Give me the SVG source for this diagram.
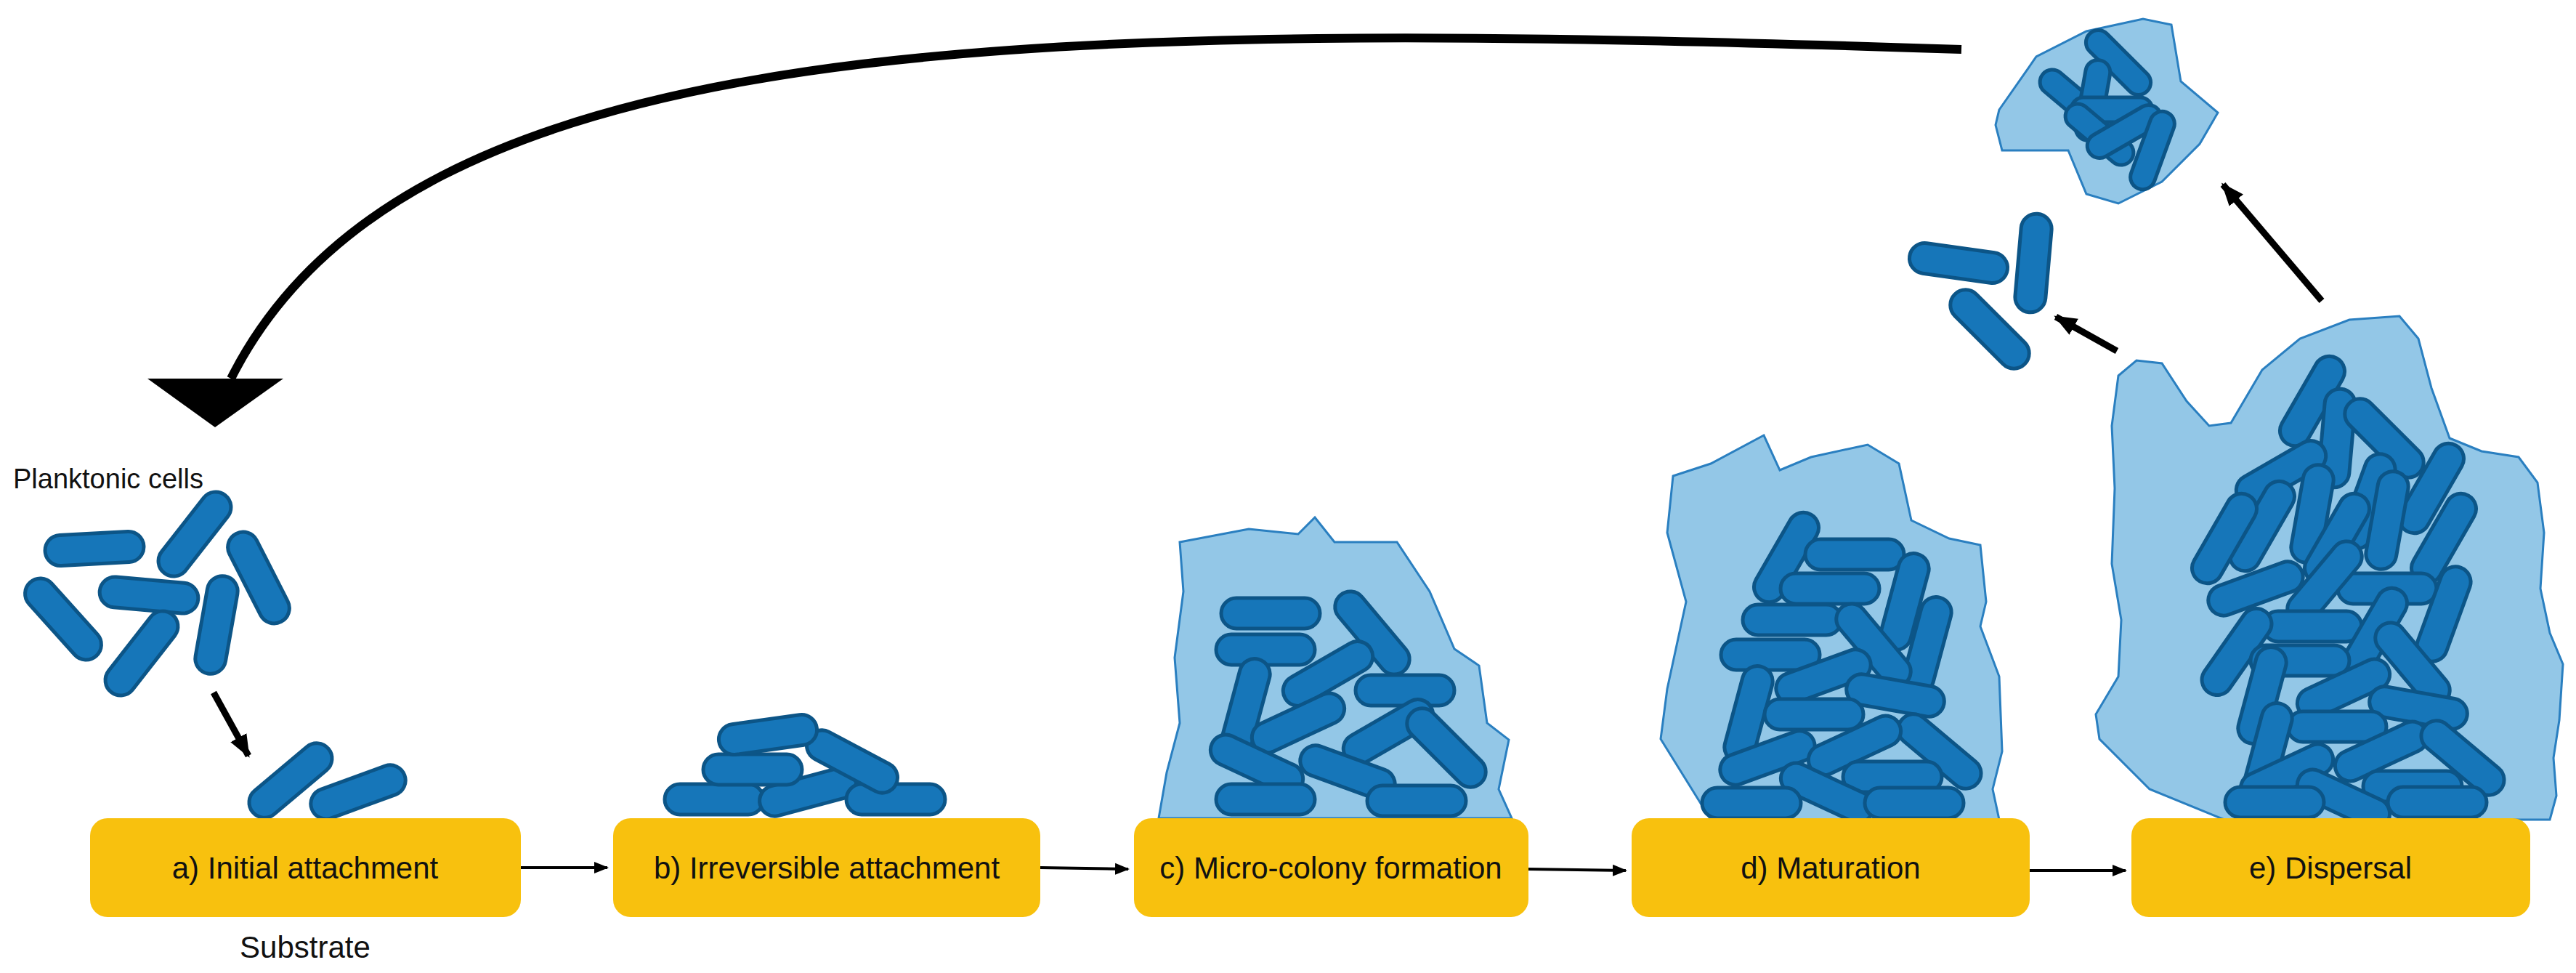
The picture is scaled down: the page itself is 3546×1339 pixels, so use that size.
<svg xmlns="http://www.w3.org/2000/svg" xmlns:xlink="http://www.w3.org/1999/xlink" width="3546" height="1339" viewBox="0 0 3546 1339">
<style>
.cell{fill:#1676b9;stroke:#0c5587;stroke-width:5}
.blob{fill:#93c7e7;stroke:#2a7fc0;stroke-width:3}
.box{fill:#f8c10e}
.lbl{font-family:"Liberation Sans",Arial,sans-serif;font-size:42px;fill:#111;text-anchor:middle}
.con{stroke:#000;stroke-width:4;fill:none}
.arr{stroke:#000;stroke-width:9;fill:none}
</style>
<defs>
<rect id="c" class="cell" x="-68" y="-21" width="136" height="42" rx="21"/>
<rect id="cs" class="cell" x="-56" y="-17" width="112" height="34" rx="17"/>
<marker id="mh" viewBox="0 0 10 10" refX="9" refY="5" markerWidth="5" markerHeight="5" orient="auto" markerUnits="strokeWidth"><path d="M0,1 L10,5 L0,9 z" fill="#000"/></marker>
<marker id="mb" viewBox="0 0 10 10" refX="9" refY="5" markerWidth="3.5" markerHeight="3.5" orient="auto" markerUnits="strokeWidth"><path d="M0,1 L10,5 L0,9 z" fill="#000"/></marker>
</defs>
<rect width="3546" height="1339" fill="#fff"/>

<g id="connectors">
<path class="con" d="M717,1194 L836,1194" marker-end="url(#mh)"/>
<path class="con" d="M1432,1194 L1553,1196" marker-end="url(#mh)"/>
<path class="con" d="M2104,1196 L2238,1198" marker-end="url(#mh)"/>
<path class="con" d="M2794,1198 L2926,1198" marker-end="url(#mh)"/>
<path d="M2700,68 C1400,25 560,40 318,521" fill="none" stroke="#000" stroke-width="12"/>
<polygon points="203,521 390,521 296,588" fill="#000"/>
<path class="arr" d="M294,953 L342,1040" marker-end="url(#mb)"/>
<path class="arr" d="M3196,414 L3060,254" marker-end="url(#mb)"/>
<path class="arr" d="M2914,483 L2830,436" marker-end="url(#mb)"/>
</g>

<g id="planktonic">
<text x="18" y="672" font-family="Liberation Sans,Arial,sans-serif" font-size="38" fill="#111">Planktonic cells</text>
<use href="#c" transform="translate(130,755) rotate(-3)"/>
<use href="#c" transform="translate(268,735) rotate(-52)"/>
<use href="#c" transform="translate(356,795) rotate(63)"/>
<use href="#c" transform="translate(205,819) rotate(5)"/>
<use href="#c" transform="translate(87,852) rotate(48)"/>
<use href="#c" transform="translate(195,899) rotate(-52)"/>
<use href="#c" transform="translate(298,860) rotate(-80)"/>
</g>

<g id="node-a">
<use href="#c" transform="translate(400,1074) rotate(-40)"/>
<use href="#c" transform="translate(493,1090) rotate(-20)"/>
<rect class="box" x="124" y="1126" width="593" height="136" rx="24"/>
<text class="lbl" x="420" y="1209">a) Initial attachment</text>
<text class="lbl" x="420" y="1318" font-size="38">Substrate</text>
</g>

<g id="node-b">
<use href="#c" transform="translate(983,1100)"/>
<use href="#c" transform="translate(1112,1090) rotate(-15)"/>
<use href="#c" transform="translate(1233,1100)"/>
<use href="#c" transform="translate(1036,1059)"/>
<use href="#c" transform="translate(1173,1048) rotate(28)"/>
<use href="#c" transform="translate(1057,1011) rotate(-8)"/>
<rect class="box" x="844" y="1126" width="588" height="136" rx="24"/>
<text class="lbl" x="1138" y="1209">b) Irreversible attachment</text>
</g>

<g id="node-c">
<polygon class="blob" points="1624,746 1719,728 1787,735 1810,712 1837,746 1923,746 1968,814 2002,893 2036,916 2047,995 2077,1018 2063,1086 2081,1126 1595,1126 1606,1063 1624,995 1617,905 1629,814"/>
<use href="#c" transform="translate(1749,844)"/>
<use href="#c" transform="translate(1889,871) rotate(50)"/>
<use href="#c" transform="translate(1742,894)"/>
<use href="#c" transform="translate(1715,973) rotate(-75)"/>
<use href="#c" transform="translate(1828,927) rotate(-30)"/>
<use href="#c" transform="translate(1934,950)"/>
<use href="#c" transform="translate(1787,995) rotate(-25)"/>
<use href="#c" transform="translate(1911,1007) rotate(-30)"/>
<use href="#c" transform="translate(1991,1029) rotate(45)"/>
<use href="#c" transform="translate(1730,1052) rotate(25)"/>
<use href="#c" transform="translate(1855,1063) rotate(20)"/>
<use href="#c" transform="translate(1742,1100)"/>
<use href="#c" transform="translate(1950,1102)"/>
<rect class="box" x="1561" y="1126" width="543" height="136" rx="24"/>
<text class="lbl" x="1832" y="1209">c) Micro-colony formation</text>
</g>

<g id="node-d">
<polygon class="blob" points="2303,655 2355,638 2428,599 2450,647 2493,629 2571,612 2614,638 2631,716 2683,741 2726,750 2734,828 2726,862 2752,931 2756,1034 2743,1086 2752,1128 2355,1128 2286,1017 2295,948 2321,828 2295,733"/>
<use href="#c" transform="translate(2459,767) rotate(-60)"/>
<use href="#c" transform="translate(2553,763)"/>
<use href="#c" transform="translate(2519,810)"/>
<use href="#c" transform="translate(2622,828) rotate(-75)"/>
<use href="#c" transform="translate(2467,853)"/>
<use href="#c" transform="translate(2437,901)"/>
<use href="#c" transform="translate(2653,888) rotate(-75)"/>
<use href="#c" transform="translate(2579,888) rotate(50)"/>
<use href="#c" transform="translate(2510,931) rotate(-20)"/>
<use href="#c" transform="translate(2407,983) rotate(-75)"/>
<use href="#c" transform="translate(2609,957) rotate(10)"/>
<use href="#c" transform="translate(2497,983)"/>
<use href="#c" transform="translate(2670,1034) rotate(40)"/>
<use href="#c" transform="translate(2433,1043) rotate(-20)"/>
<use href="#c" transform="translate(2553,1026) rotate(-25)"/>
<use href="#c" transform="translate(2605,1069)"/>
<use href="#c" transform="translate(2515,1091) rotate(25)"/>
<use href="#c" transform="translate(2411,1105)"/>
<use href="#c" transform="translate(2635,1105)"/>
<rect class="box" x="2246" y="1126" width="548" height="136" rx="24"/>
<text class="lbl" x="2520" y="1209">d) Maturation</text>
</g>

<g id="node-e">
<polygon class="blob" points="2916,517 2941,496 2976,500 3010,552 3041,586 3071,582 3114,509 3166,466 3234,440 3303,435 3329,466 3347,534 3372,603 3416,621 3467,629 3493,664 3502,733 3497,810 3510,871 3528,914 3523,991 3515,1043 3519,1095 3510,1128 3062,1128 2959,1086 2890,1017 2885,983 2916,931 2920,853 2907,776 2911,672 2907,586"/>
<use href="#c" transform="translate(3183,552) rotate(-60)"/>
<use href="#c" transform="translate(3217,603) rotate(-85)"/>
<use href="#c" transform="translate(3282,603) rotate(45)"/>
<use href="#c" transform="translate(3140,651) rotate(-30)"/>
<use href="#c" transform="translate(3260,690) rotate(-70)"/>
<use href="#c" transform="translate(3347,672) rotate(-60)"/>
<use href="#c" transform="translate(3183,707) rotate(-80)"/>
<use href="#c" transform="translate(3286,716) rotate(-80)"/>
<use href="#c" transform="translate(3114,724) rotate(-60)"/>
<use href="#c" transform="translate(3062,741) rotate(-60)"/>
<use href="#c" transform="translate(3364,741) rotate(-60)"/>
<use href="#c" transform="translate(3217,741) rotate(-60)"/>
<use href="#c" transform="translate(3105,810) rotate(-20)"/>
<use href="#c" transform="translate(3286,810)"/>
<use href="#c" transform="translate(3200,802) rotate(-50)"/>
<use href="#c" transform="translate(3364,845) rotate(-70)"/>
<use href="#c" transform="translate(3183,862)"/>
<use href="#c" transform="translate(3269,871) rotate(-60)"/>
<use href="#c" transform="translate(3079,897) rotate(-55)"/>
<use href="#c" transform="translate(3166,909)"/>
<use href="#c" transform="translate(3321,914) rotate(50)"/>
<use href="#c" transform="translate(3114,957) rotate(-75)"/>
<use href="#c" transform="translate(3226,948) rotate(-25)"/>
<use href="#c" transform="translate(3329,974) rotate(10)"/>
<use href="#c" transform="translate(3217,1000)"/>
<use href="#c" transform="translate(3122,1034) rotate(-75)"/>
<use href="#c" transform="translate(3148,1065) rotate(-25)"/>
<use href="#c" transform="translate(3278,1034) rotate(-25)"/>
<use href="#c" transform="translate(3390,1043) rotate(40)"/>
<use href="#c" transform="translate(3321,1082)"/>
<use href="#c" transform="translate(3226,1100) rotate(25)"/>
<use href="#c" transform="translate(3131,1104)"/>
<use href="#c" transform="translate(3355,1104)"/>
<rect class="box" x="2934" y="1126" width="549" height="136" rx="24"/>
<text class="lbl" x="3208" y="1209">e) Dispersal</text>
</g>

<g id="dispersed-cells">
<use href="#c" transform="translate(2696,362) rotate(8)"/>
<use href="#c" transform="translate(2799,362) rotate(-85)"/>
<use href="#c" transform="translate(2739,453) rotate(45)"/>
</g>

<g id="dispersed-clump">
<polygon class="blob" points="2752,151 2803,78 2872,43 2950,26 2989,34 3002,112 3053,155 3028,198 2976,250 2916,280 2872,267 2847,207 2756,207 2747,172"/>
<use href="#cs" transform="translate(2855,138) rotate(40)"/>
<use href="#cs" transform="translate(2916,86) rotate(45)"/>
<use href="#cs" transform="translate(2881,138) rotate(-80)"/>
<use href="#cs" transform="translate(2907,151)"/>
<use href="#cs" transform="translate(2890,185) rotate(40)"/>
<use href="#cs" transform="translate(2924,181) rotate(-30)"/>
<use href="#cs" transform="translate(2963,207) rotate(-70)"/>
</g>
</svg>
